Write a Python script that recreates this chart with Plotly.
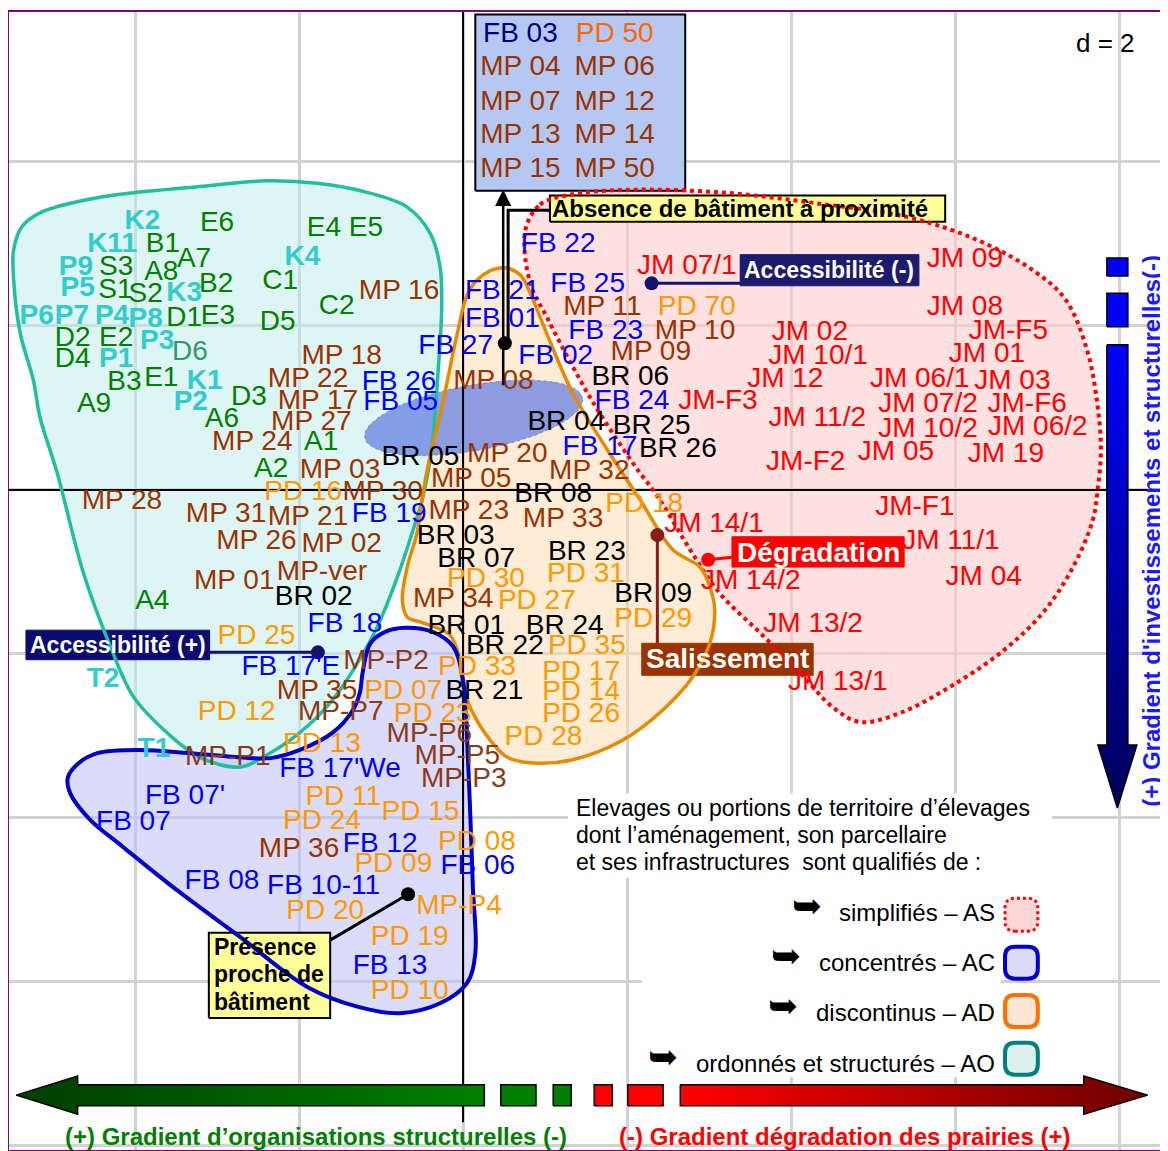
import numpy as np
import plotly.graph_objects as go

FONT = "Liberation Sans, Arial, sans-serif"

# ---------------- data (factorial plane, grid step d = 2) ----------------
green_names = ["E6", "E4 E5", "B1", "A7", "S3", "A8", "B2", "C1", "S1", "S2", "C2", "D1", "E3", "D5",
               "D2", "E2", "D4", "B3", "E1", "A9", "D3", "A6", "A1", "A2", "A4"]
green_x = [-3.00, -1.44, -3.66, -3.28, -4.23, -3.68, -3.01, -2.23, -4.24, -3.87, -1.54, -3.40, -2.99, -2.26,
           -4.76, -4.23, -4.76, -4.13, -3.68, -4.50, -2.61, -2.94, -1.73, -2.34, -3.79]
green_y = [3.24, 3.18, 2.99, 2.80, 2.71, 2.65, 2.50, 2.54, 2.43, 2.38, 2.23, 2.09, 2.11, 2.04,
           1.84, 1.84, 1.59, 1.30, 1.35, 1.04, 1.12, 0.85, 0.57, 0.24, -1.37]

d6_names = ["D6"]
d6_x = [-3.33]
d6_y = [1.67]

cyan_names = ["K2", "K11", "K4", "P9", "P5", "K3", "P6", "P7", "P4", "P8", "P3", "P1", "K1", "P2", "T2", "T1"]
cyan_x = [-3.91, -4.28, -1.96, -4.72, -4.70, -3.40, -5.20, -4.77, -4.28, -3.87, -3.73, -4.23, -3.15, -3.32, -4.39, -3.77]
cyan_y = [3.27, 2.99, 2.83, 2.71, 2.45, 2.39, 2.11, 2.11, 2.11, 2.07, 1.80, 1.59, 1.32, 1.06, -2.32, -3.17]

mp_names = ["MP 16", "MP 18", "MP 22", "MP 17", "MP 27", "MP 24", "MP 03", "MP 28", "MP 30", "MP 31", "MP 21",
            "MP 26", "MP 02", "MP 01", "MP-ver", "MP 35", "MP 36", "MP 11", "MP 10", "MP 09", "MP 08", "MP 20",
            "MP 32", "MP 05", "MP 23", "MP 33", "MP 34"]
mp_x = [-0.78, -1.48, -1.89, -1.77, -1.85, -2.57, -1.50, -4.16, -0.98, -2.89, -1.89,
        -2.52, -1.48, -2.79, -1.72, -1.78, -2.00, 1.70, 2.83, 2.29, 0.37, 0.54,
        1.54, 0.10, 0.07, 1.22, -0.12]
mp_y = [2.41, 1.62, 1.34, 1.07, 0.82, 0.57, 0.23, -0.15, -0.04, -0.30, -0.34,
        -0.63, -0.67, -1.12, -1.01, -2.46, -4.39, 2.22, 1.93, 1.67, 1.32, 0.43,
        0.22, 0.12, -0.27, -0.37, -1.34]

mpp_names = ["MP-P2", "MP-P7", "MP-P1", "MP-P6", "MP-P5", "MP-P3"]
mpp_x = [-0.94, -1.49, -2.87, -0.41, -0.07, 0.01]
mpp_y = [-2.10, -2.72, -3.27, -2.99, -3.26, -3.54]

fb_names = ["FB 27", "FB 26", "FB 05", "FB 19", "FB 18", "FB 17'E", "FB 17'We", "FB 07'", "FB 07", "FB 12",
            "FB 06", "FB 08", "FB 10-11", "FB 13", "FB 21", "FB 01", "FB 25", "FB 23", "FB 02", "FB 24",
            "FB 17", "FB 22"]
fb_x = [-0.09, -0.78, -0.76, -0.90, -1.44, -2.10, -1.50, -3.39, -4.02, -1.01,
        0.18, -2.94, -1.70, -0.89, 0.48, 0.48, 1.52, 1.74, 1.13, 2.06,
        1.67, 1.16]
fb_y = [1.74, 1.30, 1.06, -0.30, -1.65, -2.17, -3.41, -3.74, -4.06, -4.33,
        -4.60, -4.78, -4.84, -5.82, 2.41, 2.07, 2.50, 1.93, 1.62, 1.07,
        0.51, 2.99]

pd_names = ["PD 16", "PD 25", "PD 07", "PD 12", "PD 23", "PD 13", "PD 11", "PD 15", "PD 24", "PD 08", "PD 09",
            "PD 20", "PD 19", "PD 10", "MP-P4", "PD 70", "PD 18", "PD 30", "PD 31", "PD 27", "PD 29", "PD 35",
            "PD 33", "PD 17", "PD 14", "PD 26", "PD 28"]
pd_x = [-1.95, -2.52, -0.73, -2.76, -0.37, -1.72, -1.46, -0.52, -1.72, 0.17, -0.85,
        -1.68, -0.65, -0.65, -0.05, 2.85, 2.21, 0.28, 1.50, 0.90, 2.32, 1.51,
        0.17, 1.44, 1.44, 1.44, 0.98]
pd_y = [-0.04, -1.79, -2.46, -2.72, -2.74, -3.11, -3.76, -3.94, -4.05, -4.30, -4.57,
        -5.15, -5.46, -6.12, -5.09, 2.22, -0.18, -1.10, -1.04, -1.37, -1.59, -1.91,
        -2.17, -2.23, -2.48, -2.74, -3.02]

br_names = ["BR 05", "BR 02", "BR 06", "BR 04", "BR 25", "BR 26", "BR 08", "BR 03", "BR 07", "BR 23",
            "BR 09", "BR 01", "BR 24", "BR 22", "BR 21"]
br_x = [-0.52, -1.82, 2.04, 1.26, 2.30, 2.62, 1.10, -0.09, 0.16, 1.51, 2.32, 0.04, 1.24, 0.51, 0.26]
br_y = [0.39, -1.32, 1.37, 0.82, 0.77, 0.49, -0.06, -0.57, -0.85, -0.77, -1.28, -1.67, -1.67, -1.91, -2.46]

jm_names = ["JM 07/1", "JM 09", "JM 08", "JM-F5", "JM 02", "JM 10/1", "JM 01", "JM 12", "JM 06/1", "JM 03",
            "JM-F3", "JM 07/2", "JM-F6", "JM 11/2", "JM 10/2", "JM 06/2", "JM 05", "JM 19", "JM-F2", "JM-F1",
            "JM 14/1", "JM 11/1", "JM 14/2", "JM 04", "JM 13/2", "JM 13/1"]
jm_x = [2.73, 6.12, 6.12, 6.65, 4.23, 4.33, 6.39, 3.93, 5.57, 6.70,
        3.11, 5.67, 6.88, 4.32, 5.67, 7.01, 5.28, 6.62, 4.18, 5.51,
        3.06, 5.95, 3.51, 6.35, 4.27, 4.57]
jm_y = [2.72, 2.80, 2.22, 1.93, 1.91, 1.62, 1.65, 1.34, 1.34, 1.32,
        1.07, 1.04, 1.04, 0.87, 0.73, 0.76, 0.45, 0.43, 0.33, -0.22,
        -0.43, -0.63, -1.12, -1.07, -1.65, -2.35]

# individuals located off the plane (listed in the top box)
off_col1 = ["FB 03", "MP 04", "MP 07", "MP 13", "MP 15"]
off_col2 = ["PD 50", "MP 06", "MP 12", "MP 14", "MP 50"]
off_rows_y = [5.55, 5.15, 4.72, 4.32, 3.90]
off_col1_x = 0.70
off_col2_x = 1.85

# group envelopes
as_x = [0.76, 0.94, 1.30, 2.00, 3.13, 4.28, 5.41, 6.27, 6.95, 7.35, 7.61, 7.73, 7.78, 7.74, 7.68, 7.44, 7.07,
        6.55, 5.94, 5.33, 4.84, 4.51, 4.11, 3.62, 3.13, 2.77, 2.40, 2.07, 1.59, 1.34, 1.02, 0.82]
as_y = [3.17, 3.48, 3.60, 3.66, 3.63, 3.50, 3.33, 3.05, 2.68, 2.32, 1.71, 1.10, 0.49, 0.00, -0.37, -0.94, -1.50,
        -1.99, -2.40, -2.72, -2.83, -2.65, -2.23, -1.74, -1.26, -0.73, -0.12, 0.33, 1.06, 1.50, 2.11, 2.52]
ao_x = [-5.48, -5.38, -5.16, -4.43, -3.21, -2.39, -1.78, -1.17, -0.68, -0.40, -0.28, -0.26, -0.30, -0.38, -0.49,
        -0.61, -0.80, -1.01, -1.17, -1.59, -1.99, -2.44, -2.72, -3.21, -3.61, -4.02, -4.30, -4.63, -4.95, -5.16,
        -5.24, -5.40, -5.48]
ao_y = [2.93, 3.21, 3.38, 3.57, 3.70, 3.77, 3.74, 3.63, 3.45, 3.13, 2.72, 2.23, 1.50, 0.52, -0.09,
        -0.49, -1.06, -1.59, -1.91, -2.56, -2.96, -3.26, -3.38, -3.26, -2.96, -2.52, -1.91, -1.01, 0.21, 0.89,
        1.34, 1.91, 2.56]
ad_x = [0.49, 0.70, 0.82, 1.02, 1.34, 1.76, 2.16, 2.56, 2.89, 3.01, 3.07, 3.01, 2.80, 2.44, 1.95, 1.34, 0.85,
        0.54, 0.33, 0.12, 0.00, -0.04, -0.16, -0.49, -0.68, -0.74, -0.68, -0.56, -0.50, -0.43, -0.24, -0.07,
        0.06, 0.24]
ad_y = [2.71, 2.62, 2.40, 1.91, 1.18, 0.49, -0.12, -0.73, -0.94, -1.18, -1.46, -1.87, -2.28, -2.68, -3.05,
        -3.29, -3.33, -3.26, -3.05, -2.72, -2.40, -2.07, -1.77, -1.62, -1.55, -1.34, -0.94, -0.52, -0.12, 0.28,
        1.10, 1.91, 2.40, 2.62]
ac_x = [-1.13, -0.95, -0.71, -0.37, -0.12, 0.00, 0.06, 0.09, 0.12, 0.15, 0.05, -0.28, -0.77, -1.29, -1.90,
        -2.72, -3.54, -4.15, -4.55, -4.79, -4.82, -4.71, -4.46, -3.94, -3.33, -2.72, -2.35, -1.99, -1.59,
        -1.34, -1.26, -1.22]
ac_y = [-1.87, -1.73, -1.68, -1.73, -1.91, -2.32, -3.29, -4.00, -4.84, -5.65, -6.01, -6.26, -6.38, -6.30,
        -6.06, -5.45, -4.84, -4.35, -4.02, -3.70, -3.51, -3.35, -3.21, -3.17, -3.21, -3.26, -3.27, -3.17,
        -2.96, -2.68, -2.48, -2.20]

# centre ellipse (centre, half-axes, angle in degrees)
ell_center = (0.13, 0.88)
ell_axes = (1.35, 0.40)
ell_angle = 10.3

# factor anchor points (dot) and label-box attachment points
fac_dot_x = [-1.77, 2.30, 2.99, 2.37, -0.67, 0.51]
fac_dot_y = [-1.98, 2.52, -0.85, -0.55, -4.93, 1.79]
fac_dot_col = ["#14146e", "#14146e", "#ff0000", "#8b1a1a", "#000000", "#000000"]
fac_end_x = [-3.09, 3.38, 3.28, 2.37, -1.62, 1.06]
fac_end_y = [-1.98, 2.52, -0.82, -1.87, -5.49, 3.41]

# ---------------- figure ----------------
X0, X1 = -5.537, 8.500
Y0, Y1 = -8.049, 5.829

fig = go.Figure()


def closed(xs, ys):
    return list(xs) + [xs[0]], list(ys) + [ys[0]]


hulls = [
    (as_x, as_y, "rgba(255,200,200,0.55)", "#ff0000", 4, "dot"),
    (ao_x, ao_y, "rgba(190,236,236,0.50)", "#1fbf9f", 3.5, "solid"),
    (ad_x, ad_y, "rgba(253,218,175,0.50)", "#e68a00", 3.5, "solid"),
    (ac_x, ac_y, "rgba(190,190,245,0.55)", "#0000c8", 4, "solid"),
]
# fills
for hx, hy, fc, lc, lw, dash in hulls:
    cx, cy = closed(hx, hy)
    fig.add_trace(go.Scatter(x=cx, y=cy, mode="lines", fill="toself", fillcolor=fc,
                             line=dict(width=0, shape="spline", smoothing=1.0, color=fc),
                             hoverinfo="skip", cliponaxis=True))

# ellipse
t = np.linspace(0, 2 * np.pi, 120)
th = np.deg2rad(ell_angle)
ex = ell_center[0] + ell_axes[0] * np.cos(t) * np.cos(th) - ell_axes[1] * np.sin(t) * np.sin(th)
ey = ell_center[1] + ell_axes[0] * np.cos(t) * np.sin(th) + ell_axes[1] * np.sin(t) * np.cos(th)
fig.add_trace(go.Scatter(x=ex, y=ey, mode="lines", fill="toself", fillcolor="rgba(95,125,225,0.72)",
                         line=dict(width=1, color="rgba(90,100,160,0.6)", dash="dot"), hoverinfo="skip"))

# axes through origin
fig.add_trace(go.Scatter(x=[X0, X1], y=[0, 0], mode="lines", line=dict(color="black", width=2), hoverinfo="skip"))
fig.add_trace(go.Scatter(x=[0, 0], y=[Y1, -7.71], mode="lines", line=dict(color="black", width=2), hoverinfo="skip"))


# label boxes (below the envelope outlines, as in the original)
def rect_trace(x0, x1, y0, y1, fill, border="black", bw=2):
    return go.Scatter(x=[x0, x1, x1, x0, x0], y=[y0, y0, y1, y1, y0], mode="lines", fill="toself",
                      fillcolor=fill, line=dict(color=border, width=bw), hoverinfo="skip")


boxes = [
    (0.15, 2.71, 3.65, 5.80, "#b4c8f2", "black", 2),      # off-plane list
    (1.06, 5.88, 3.27, 3.59, "#ffff99", "black", 2),      # Absence
    (3.38, 5.56, 2.49, 2.87, "#1c1c6e", "#1c1c6e", 1),    # Accessibilité (-)
    (-5.33, -3.09, -2.07, -1.71, "#0c0c70", "#0c0c70", 1),  # Accessibilité (+)
    (3.28, 5.38, -0.94, -0.57, "#ff0000", "#ff0000", 1),  # Dégradation
    (2.18, 4.27, -2.26, -1.87, "#993300", "#993300", 1),  # Salissement
    (-3.10, -1.62, -6.44, -5.40, "#ffff99", "black", 2),  # Présence
]
for b in boxes:
    fig.add_trace(rect_trace(*b))

# envelope outlines
for hx, hy, fc, lc, lw, dash in hulls:
    cx, cy = closed(hx, hy)
    fig.add_trace(go.Scatter(x=cx, y=cy, mode="lines",
                             line=dict(width=lw, shape="spline", smoothing=1.0, color=lc, dash=dash),
                             hoverinfo="skip"))

# connectors and dots
for x0, y0, x1, y1, c in zip(fac_dot_x, fac_dot_y, fac_end_x, fac_end_y, fac_dot_col):
    if c == "#000000" and x1 > x0 and y1 > y0:   # Absence: elbow connector
        xs, ys = [x0 + 0.04, x0 + 0.04, x1], [y0, y1, y1]
    else:
        xs, ys = [x0, x1], [y0, y1]
    fig.add_trace(go.Scatter(x=xs, y=ys, mode="lines", line=dict(color=c, width=3), hoverinfo="skip"))
fig.add_trace(go.Scatter(x=fac_dot_x, y=fac_dot_y, mode="markers",
                         marker=dict(size=14, color=fac_dot_col), hoverinfo="skip"))


def text_trace(names, xs, ys, color, size=28, weight="normal"):
    return go.Scatter(x=xs, y=ys, text=names, mode="text", textposition="middle center",
                      textfont=dict(family=FONT, size=size, color=color, weight=weight),
                      cliponaxis=False, hoverinfo="skip")


fig.add_trace(text_trace(green_names, green_x, green_y, "#008000"))
fig.add_trace(text_trace(d6_names, d6_x, d6_y, "#339966"))
fig.add_trace(text_trace(cyan_names, cyan_x, cyan_y, "#33cccc", weight="bold"))
fig.add_trace(text_trace(mp_names, mp_x, mp_y, "#993300"))
fig.add_trace(text_trace(mpp_names, mpp_x, mpp_y, "#8b3a1a"))
fig.add_trace(text_trace(fb_names, fb_x, fb_y, "#0000ff"))
fig.add_trace(text_trace(pd_names, pd_x, pd_y, "#ff9900"))
fig.add_trace(text_trace(br_names, br_x, br_y, "#000000"))
fig.add_trace(text_trace(jm_names, jm_x, jm_y, "#ff0000"))
fig.add_trace(go.Scatter(x=[off_col1_x] * len(off_col1), y=off_rows_y, text=off_col1, mode="text",
                         textfont=dict(family=FONT, size=28, color=["#000080"] + ["#993300"] * 4),
                         cliponaxis=False, hoverinfo="skip"))
fig.add_trace(go.Scatter(x=[off_col2_x] * len(off_col2), y=off_rows_y, text=off_col2, mode="text",
                         textfont=dict(family=FONT, size=28, color=["#ff6600"] + ["#993300"] * 4),
                         cliponaxis=False, hoverinfo="skip"))

# ---------------- gradient arrows ----------------
AY, SH, HH = -7.38, 0.128, 0.232
left_x = [-5.45, -4.70, -4.70, 0.26, 0.26, -4.70, -4.70, -5.45]
left_y = [AY, AY + HH, AY + SH, AY + SH, AY - SH, AY - SH, AY - HH, AY]
fig.add_trace(go.Scatter(x=left_x, y=left_y, mode="lines", fill="toself",
                         fillgradient=dict(type="horizontal", colorscale=[[0, "#003d00"], [1, "#008000"]]),
                         line=dict(color="black", width=1.5), hoverinfo="skip"))
right_x = [2.65, 7.57, 7.57, 8.35, 7.57, 7.57, 2.65, 2.65]
right_y = [AY + SH, AY + SH, AY + HH, AY, AY - HH, AY - SH, AY - SH, AY + SH]
fig.add_trace(go.Scatter(x=right_x, y=right_y, mode="lines", fill="toself",
                         fillgradient=dict(type="horizontal", colorscale=[[0, "#ff0000"], [1, "#6e0000"]]),
                         line=dict(color="black", width=1.5), hoverinfo="skip"))
for (a, b), col in [((0.46, 0.89), "#008000"), ((1.10, 1.32), "#008000"),
                    ((1.60, 1.82), "#ff0000"), ((2.01, 2.44), "#ff0000")]:
    fig.add_trace(rect_trace(a, b, AY - SH, AY + SH, col, "black", 1.5))

VX, VS, VH = 7.98, 0.128, 0.238
down_x = [VX - VS, VX + VS, VX + VS, VX + VH, VX, VX - VH, VX - VS, VX - VS]
down_y = [1.77, 1.77, -3.11, -3.11, -3.88, -3.11, -3.11, 1.77]
fig.add_trace(go.Scatter(x=down_x, y=down_y, mode="lines", fill="toself",
                         fillgradient=dict(type="vertical", colorscale=[[0, "#000058"], [1, "#0000ff"]]),
                         line=dict(color="black", width=1.5), hoverinfo="skip"))
for a, b in [(2.61, 2.83), (1.99, 2.40)]:
    fig.add_trace(rect_trace(VX - VS, VX + VS, a, b, "#0000ff", "black", 1.5))

# ---------------- shapes ----------------
shapes = [
    dict(type="rect", xref="x", yref="y", x0=1.28, x1=7.18, y0=-4.73, y1=-3.70,
         fillcolor="white", line=dict(width=0), layer="between"),
    dict(type="rect", xref="x", yref="y", x0=2.18, x1=6.56, y0=-7.16, y1=-4.73,
         fillcolor="white", line=dict(width=0), layer="between"),
]


def rrect(x0, y0, x1, y1, r):
    return (f"M{x0 + r},{y0} L{x1 - r},{y0} Q{x1},{y0} {x1},{y0 + r} L{x1},{y1 - r} Q{x1},{y1} {x1 - r},{y1} "
            f"L{x0 + r},{y1} Q{x0},{y1} {x0},{y1 - r} L{x0},{y0 + r} Q{x0},{y0} {x0 + r},{y0} Z")


legend_rows = ["simplifiés – AS", "concentrés – AC", "discontinus – AD", "ordonnés et structurés – AO"]
legend_y = [-5.15, -5.76, -6.37, -6.99]
legend_hook_x = [4.20, 3.94, 3.90, 2.44]
legend_sw = [(-5.38, -4.98, "#ffd6d6", "#ff0000", "dot", 3),
             (-5.96, -5.57, "#dcdcf8", "#0000cc", "solid", 4),
             (-6.55, -6.16, "#fde6d4", "#ff7000", "solid", 4),
             (-7.13, -6.74, "#dcf0ee", "#008080", "solid", 4)]
for y0, y1, fc, lc, dash, w in legend_sw:
    shapes.append(dict(type="path", xref="x", yref="y", path=rrect(6.61, y0, 7.01, y1, 0.12),
                       fillcolor=fc, line=dict(color=lc, width=w, dash=dash), layer="above"))

annotations = []


def ann(x, y, text, size, color="black", xanchor="center", bold=False, **kw):
    annotations.append(dict(x=x, y=y, xref="x", yref="y", text=f"<b>{text}</b>" if bold else text,
                            showarrow=False, xanchor=xanchor, yanchor="middle",
                            font=dict(family=FONT, size=size, color=color), **kw))


ann(7.84, 5.45, "d = 2", 26)
ann(3.38, 3.43, "Absence de bâtiment à proximité", 24, bold=True)
ann(4.46, 2.68, "Accessibilité (-)", 23, "white", bold=True)
ann(-4.21, -1.89, "Accessibilité (+)", 23, "white", bold=True)
ann(4.33, -0.76, "Dégradation", 28, "white", bold=True)
ann(3.22, -2.06, "Salissement", 28, "white", bold=True)
for i, line in enumerate(["Présence", "proche de", "bâtiment"]):
    ann(-3.06, -5.57 - 0.335 * i, line, 23, xanchor="left", bold=True)

for i, line in enumerate(["Elevages ou portions de territoire d’élevages",
                          "dont l’aménagement, son parcellaire",
                          "et ses infrastructures  sont qualifiés de :"]):
    ann(1.35, -3.88 - 0.33 * i, line, 23, xanchor="left")
for txt, y, hx in zip(legend_rows, legend_y, legend_hook_x):
    ann(6.51, y, txt, 24, xanchor="right")
    ann(hx, y + 0.08, "➥", 36)

ann(-1.79, -7.89, "(+) Gradient d’organisations structurelles (-)", 24, "#008000", bold=True)
ann(4.65, -7.89, "(-) Gradient dégradation des prairies (+)", 24, "#ff0000", bold=True)
ann(8.40, -0.50, "(+) Gradient d'investissements et structurelles(-)", 24, "#1a1aff", bold=True,
    textangle=-90)

# arrow to the off-plane box
annotations.append(dict(x=0.49, y=3.66, ax=0.49, ay=1.26, xref="x", yref="y", axref="x", ayref="y",
                        text="", showarrow=True, arrowhead=2, arrowsize=1.3, arrowwidth=2.5,
                        arrowcolor="black"))

axis_common = dict(showgrid=True, gridcolor="#d2d2d2", gridwidth=2.5, dtick=2, tick0=0, zeroline=False,
                   showticklabels=False, ticks="", showline=True, mirror=True, linecolor="#800080",
                   linewidth=2, fixedrange=True)
# page body has an 8px margin: the figure is sized and offset to compensate
fig.update_layout(
    width=1160, height=1143,
    margin=dict(l=1, r=8, t=4, b=1),
    plot_bgcolor="white", paper_bgcolor="white",
    showlegend=False,
    xaxis=dict(range=[X0, X1], **axis_common),
    yaxis=dict(range=[Y0, Y1], **axis_common),
    shapes=shapes,
    annotations=annotations,
    font=dict(family=FONT),
)

fig.write_html("out.html")
